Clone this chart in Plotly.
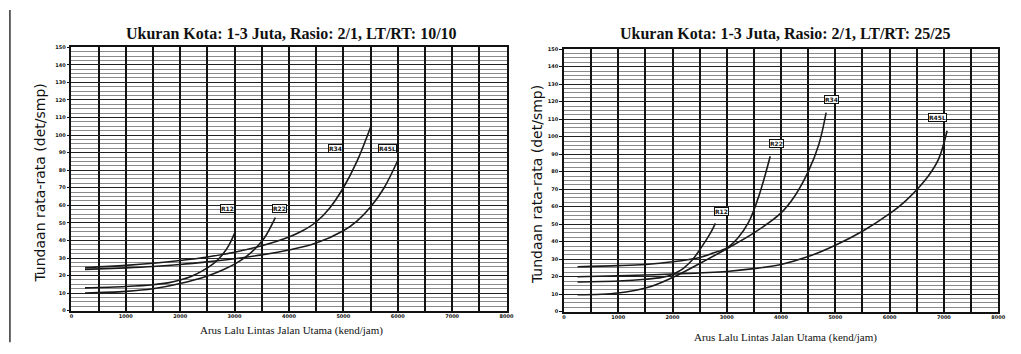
import plotly.graph_objects as go

# Tundaan rata-rata vs arus lalu lintas jalan utama
# Panel kiri: LT/RT 10/10, panel kanan: LT/RT 25/25

TITLE_LEFT = "Ukuran Kota: 1-3 Juta, Rasio: 2/1, LT/RT: 10/10"
TITLE_RIGHT = "Ukuran Kota: 1-3 Juta, Rasio: 2/1, LT/RT: 25/25"
Y_TITLE = "Tundaan rata-rata (det/smp)"
X_TITLE = "Arus Lalu Lintas Jalan Utama (kend/jam)"

x_ticks = [0, 1000, 2000, 3000, 4000, 5000, 6000, 7000, 8000]
y_ticks = [0, 10, 20, 30, 40, 50, 60, 70, 80, 90, 100, 110, 120, 130, 140, 150]

# --- LT/RT 10/10 ---
l_r12_x = [250, 1000, 1500, 1800, 2000, 2200, 2400, 2600, 2700, 2800, 2900, 3000]
l_r12_y = [13, 13.8, 14.8, 16, 17.5, 19.5, 22.5, 26.5, 29.3, 32.8, 37.5, 44]

l_r22_x = [250, 1000, 1500, 2000, 2500, 2800, 3000, 3200, 3400, 3550, 3750]
l_r22_y = [10, 11, 12.5, 15.5, 19.8, 23.5, 26.5, 30.5, 36, 41.5, 53]

l_r34_x = [250, 1000, 1500, 2000, 2500, 3000, 3500, 4000, 4250, 4500, 4750, 5000, 5250, 5500]
l_r34_y = [24.5, 25.8, 27, 28.6, 30.6, 33.3, 37, 42, 45.5, 50.5, 58.5, 70, 85, 104.5]

l_r45_x = [250, 1000, 1500, 2000, 2500, 3000, 3500, 4000, 4500, 5000, 5250, 5500, 5750, 6000]
l_r45_y = [23.5, 24.4, 25.2, 26.3, 27.8, 29.6, 31.8, 34.6, 38.5, 45.5, 51, 59, 70, 85.5]

# --- LT/RT 25/25 ---
r_r12_x = [250, 1000, 1500, 1800, 2000, 2100, 2200, 2300, 2400, 2500, 2600, 2700, 2790]
r_r12_y = [17, 17.5, 18.5, 19.6, 21.3, 22.8, 24.8, 27.5, 31, 35.3, 40, 45, 50.5]

r_r22_x = [250, 1000, 1500, 2000, 2500, 2750, 3000, 3200, 3400, 3600, 3800]
r_r22_y = [25.7, 26.3, 27, 28.5, 31, 33.5, 36.5, 42, 51, 67, 88.8]

r_r34_x = [250, 1000, 1600, 2100, 2500, 3000, 3500, 4000, 4250, 4500, 4700, 4830]
r_r34_y = [9.7, 10.7, 14.4, 21, 27.5, 36, 45, 56.5, 66, 80, 96, 113.7]

r_r45_x = [250, 1000, 2000, 3000, 3500, 4000, 4500, 5000, 5500, 6000, 6300, 6700, 6900, 7060]
r_r45_y = [20, 20.5, 21.5, 23, 24.6, 27, 31.5, 38, 46, 56, 63.5, 77, 87, 103.4]

curve_names = ["R12", "R22", "R34", "R45L"]
left_curves = [(l_r12_x, l_r12_y), (l_r22_x, l_r22_y), (l_r34_x, l_r34_y), (l_r45_x, l_r45_y)]
right_curves = [(r_r12_x, r_r12_y), (r_r22_x, r_r22_y), (r_r34_x, r_r34_y), (r_r45_x, r_r45_y)]

# label anchor points (data units)
left_label_x = [2870, 3820, 4850, 5820]
left_label_y = [58, 58, 92.5, 92.5]
right_label_x = [2910, 3920, 4930, 6880]
right_label_y = [57, 96, 121, 111]

# vertical grid every 500, labels only at whole thousands
x_grid = [v * 500 for v in range(17)]
x_grid_text = [str(v) if v in x_ticks else "" for v in x_grid]

fig = go.Figure()

for axis_suffix, curves in (("", left_curves), ("2", right_curves)):
    for name, (xs, ys) in zip(curve_names, curves):
        fig.add_trace(go.Scatter(
            x=xs, y=ys, mode="lines", name=name,
            line=dict(color="#1a1a1a", width=1.6, shape="spline", smoothing=1.0),
            xaxis="x" + axis_suffix, yaxis="y" + axis_suffix,
            showlegend=False, hoverinfo="skip",
        ))

annotations = []
for axis_suffix, lx, ly in (("", left_label_x, left_label_y), ("2", right_label_x, right_label_y)):
    for name, ax_, ay_ in zip(curve_names, lx, ly):
        annotations.append(dict(
            x=ax_, y=ay_, xref="x" + axis_suffix, yref="y" + axis_suffix,
            text=name, showarrow=False,
            font=dict(family="DejaVu Sans", size=6, color="#111", weight="bold"),
            bgcolor="white", bordercolor="#111", borderwidth=1, borderpad=0,
        ))

W, H = 1021, 354

def px_x(p):
    return p / W

def px_y(p):
    return 1 - p / H

# panel titles and axis titles
for cx, tt in ((292, TITLE_LEFT), (790, TITLE_RIGHT)):
    annotations.append(dict(
        x=px_x(cx), y=px_y(31), xref="paper", yref="paper", text=tt,
        showarrow=False, xanchor="center", yanchor="middle",
        font=dict(family="Liberation Serif", size=16, color="#111", weight="bold"),
    ))
for cx, cy in ((292, 333), (790, 340)):
    annotations.append(dict(
        x=px_x(cx), y=px_y(cy), xref="paper", yref="paper", text=X_TITLE,
        showarrow=False, xanchor="center", yanchor="middle",
        font=dict(family="Liberation Serif", size=11, color="#111"),
    ))
for cx, cy in ((38, 183), (540, 185)):
    annotations.append(dict(
        x=px_x(cx), y=px_y(cy), xref="paper", yref="paper", text=Y_TITLE,
        showarrow=False, textangle=-90, xanchor="center", yanchor="middle",
        font=dict(family="DejaVu Sans", size=14, color="#111"),
    ))

def xaxis_cfg(domain, anchor):
    return dict(
        domain=domain, anchor=anchor, range=[0, 8000],
        tickmode="array", tickvals=x_grid, ticktext=x_grid_text,
        tickfont=dict(family="DejaVu Sans", size=5, color="#111", weight="bold"),
        showgrid=True, gridcolor="#111", gridwidth=1.5,
        showline=True, linecolor="#111", linewidth=1.5, mirror=True,
        ticks="", zeroline=False, fixedrange=True,
    )

def yaxis_cfg(domain, anchor):
    return dict(
        domain=domain, anchor=anchor, range=[0, 150],
        tickmode="array", tickvals=y_ticks, ticktext=[str(v) for v in y_ticks],
        tickfont=dict(family="DejaVu Sans", size=5, color="#111", weight="bold"),
        showgrid=True, gridcolor="#222", gridwidth=1.4,
        minor=dict(dtick=2.5, tick0=0, showgrid=True, gridcolor="#8a8a8a", gridwidth=1.2),
        showline=True, linecolor="#111", linewidth=1.5, mirror=True,
        ticks="outside", ticklen=3, tickcolor="#111", zeroline=False, fixedrange=True,
    )

fig.update_layout(
    width=W, height=H,
    margin=dict(l=0, r=0, t=0, b=0),
    paper_bgcolor="white", plot_bgcolor="white",
    xaxis=xaxis_cfg([px_x(70), px_x(509)], "y"),
    yaxis=yaxis_cfg([px_y(313), px_y(45)], "x"),
    xaxis2=xaxis_cfg([px_x(567), px_x(1005)], "y2"),
    yaxis2=yaxis_cfg([px_y(314), px_y(47)], "x2"),
    annotations=annotations,
    shapes=[dict(type="line", xref="paper", yref="paper",
                 x0=px_x(8), x1=px_x(8), y0=px_y(7), y1=px_y(345),
                 line=dict(color="#333", width=1.5))],
)

fig.write_html("out.html")
